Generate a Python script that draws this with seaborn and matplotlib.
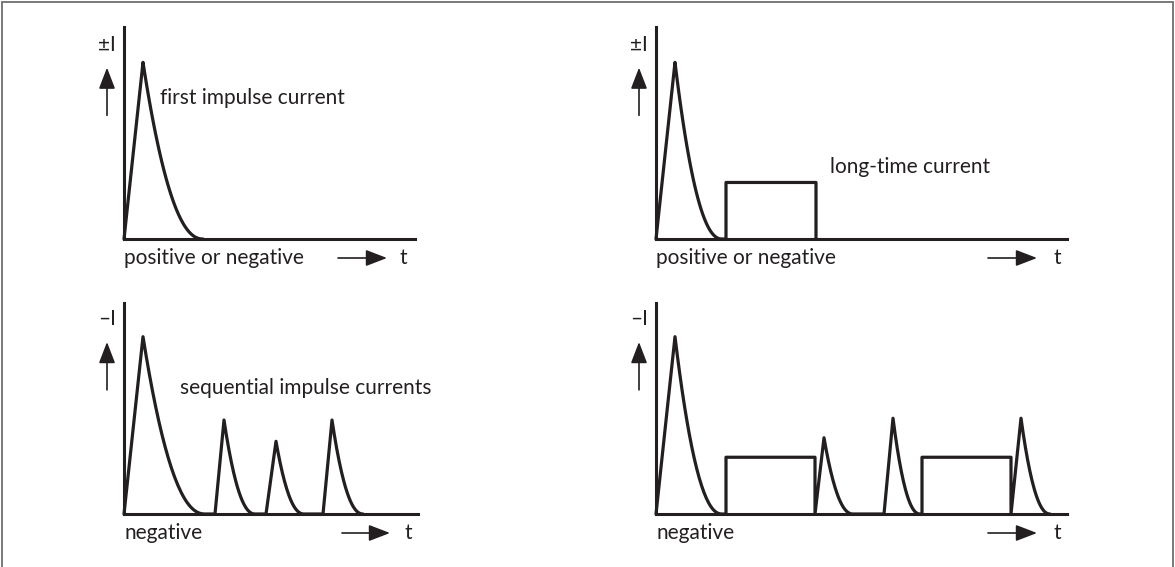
import numpy as np
import pandas as pd
import matplotlib
matplotlib.use("Agg")
import matplotlib.pyplot as plt
import matplotlib.transforms as mtrans
from matplotlib.patches import Rectangle
import seaborn as sns

# time in arbitrary units, current normalised to the first peak
# top left: first impulse current
p1_start = [0.0]
p1_peak_t = [1.9]
p1_end = [7.9]
p1_amp = [1.0]

# top right: first impulse + long-time current
p2_start = [0.0]
p2_peak_t = [1.9]
p2_end = [6.6]
p2_amp = [1.0]
p2_rect_start = [7.0]
p2_rect_end = [16.0]
p2_rect_amp = [0.32]

# bottom left: sequential impulse currents
p3_start = [0.0, 9.1, 14.2, 19.9]
p3_peak_t = [1.9, 10.0, 15.2, 20.8]
p3_end = [8.1, 13.1, 18.0, 23.9]
p3_amp = [1.0, 0.53, 0.41, 0.53]

# bottom right: mixed
p4_start = [0.0, 15.9, 22.8, 35.5]
p4_peak_t = [1.9, 16.8, 23.7, 36.5]
p4_end = [6.6, 19.7, 26.4, 39.4]
p4_amp = [1.0, 0.43, 0.54, 0.54]
p4_rect_start = [7.0, 26.6]
p4_rect_end = [15.9, 35.5]
p4_rect_amp = [0.32, 0.32]

INK = "#231f20"
FS = 15
W, H = 1175, 567


def build_wave(starts, peaks, ends, amps, r_starts=(), r_ends=(), r_amps=()):
    events = []
    for s, p, e, a in zip(starts, peaks, ends, amps):
        shape = np.linspace(0, 1, 40)
        t = [s] + list(p + shape * (e - p))
        i = [0.0] + list(a * (1 - shape) ** 2.2)
        events.append((s, t, i))
    for s, e, a in zip(r_starts, r_ends, r_amps):
        events.append((s, [s, s, e, e], [0.0, a, a, 0.0]))
    events.sort(key=lambda ev: ev[0])
    t_all, i_all = [], []
    for _, t, i in events:
        t_all += t
        i_all += i
    return pd.DataFrame({"t": t_all, "i": i_all})


sns.set_theme(style="white")
plt.rcParams["font.family"] = ["Lato", "DejaVu Sans"]

fig = plt.figure(figsize=(11.75, 5.67), dpi=100)

ARROW = dict(arrowstyle="-|>,head_length=1.3,head_width=0.5",
             mutation_scale=10, color=INK, lw=1.2, shrinkA=0, shrinkB=0)


def panel(left, top, width, height, xmax, ymax, df, ylab, lab, arrow_x, t_x, note=None):
    ax = fig.add_axes([left / W, (H - top - height) / H, width / W, height / H])
    sns.lineplot(data=df, x="t", y="i", ax=ax, sort=False, estimator=None,
                 color=INK, lw=2.3)
    for ln in ax.lines:
        ln.set_clip_on(False)
    ax.set_xlim(0, xmax)
    ax.set_ylim(0, ymax)
    ax.set_xticks([])
    ax.set_yticks([])
    ax.set_xlabel("")
    ax.set_ylabel("")
    sns.despine(ax=ax)
    for side in ("left", "bottom"):
        ax.spines[side].set_color(INK)
        ax.spines[side].set_linewidth(2.2)
    ax.patch.set_alpha(0)

    # y label and up arrow, 17 px left of the axis
    left_tr = mtrans.blended_transform_factory(
        mtrans.offset_copy(ax.transAxes, fig=fig, x=-17, units="dots"), ax.transData)
    ax.text(0, 1.10, ylab, transform=left_tr, ha="center", va="center",
            fontsize=FS, color=INK)
    ax.annotate("", xy=(0, 0.97), xycoords=left_tr,
                xytext=(0, 0.70), textcoords=left_tr,
                arrowprops=ARROW, annotation_clip=False)

    # text and time arrow, 19 px under the axis
    below = mtrans.offset_copy(ax.transData, fig=fig, y=-19, units="dots")
    ax.text(0, 0, lab, transform=below, ha="left", va="center",
            fontsize=FS, color=INK)
    ax.annotate("", xy=(arrow_x[1], 0), xycoords=below,
                xytext=(arrow_x[0], 0), textcoords=below,
                arrowprops=ARROW, annotation_clip=False)
    ax.text(t_x, 0, "t", transform=below, ha="center", va="center",
            fontsize=FS, color=INK)
    if note is not None:
        ax.text(note[0], note[1], note[2], ha="left", va="center",
                fontsize=FS, color=INK)
    return ax


wave1 = build_wave(p1_start, p1_peak_t, p1_end, p1_amp)
wave2 = build_wave(p2_start, p2_peak_t, p2_end, p2_amp,
                   p2_rect_start, p2_rect_end, p2_rect_amp)
wave3 = build_wave(p3_start, p3_peak_t, p3_end, p3_amp)
wave4 = build_wave(p4_start, p4_peak_t, p4_end, p4_amp,
                   p4_rect_start, p4_rect_end, p4_rect_amp)

panel(124, 27, 291, 212, 29.1, 1.2, wave1, "±I", "positive or negative",
      (21.4, 26.3), 27.9, (3.6, 0.80, "first impulse current"))
panel(656, 27, 411, 212, 41.1, 1.2, wave2, "±I", "positive or negative",
      (33.2, 38.1), 40.1, (17.4, 0.41, "long-time current"))
panel(124, 303, 294, 211, 29.4, 1.19, wave3, "\u2013I", "negative",
      (21.8, 26.6), 28.4, (5.6, 0.71, "sequential impulse currents"))
panel(656, 303, 411, 211, 41.1, 1.19, wave4, "\u2013I", "negative",
      (33.2, 38.1), 40.1)

# frame around the figure (open at the bottom)
fig.patches.append(Rectangle((2 / W, -0.05), 1171 / W, 1.05 - 2 / H,
                             transform=fig.transFigure, fill=False,
                             edgecolor="#6d6e70", lw=1.3))

fig.savefig("out.png", dpi=100)
